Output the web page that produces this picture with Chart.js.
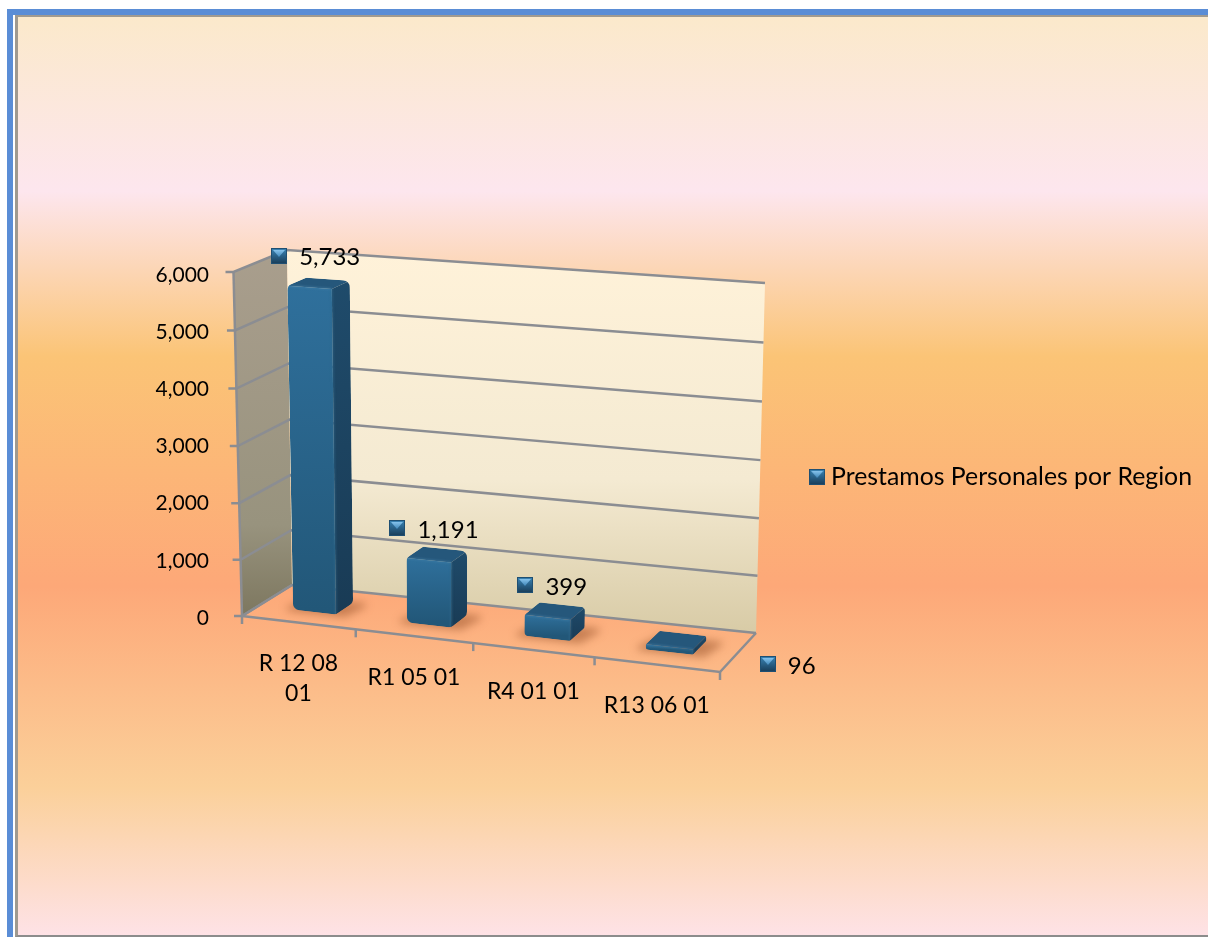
<!DOCTYPE html>
<html>
<head>
<meta charset="utf-8">
<title>Prestamos Personales por Region</title>
<script src="https://cdn.jsdelivr.net/npm/chart.js@4/dist/chart.umd.min.js"></script>
<style>
  html, body { margin: 0; padding: 0; background: #fff; overflow: hidden; }
  #frame { position: absolute; left: 7px; top: 9px; width: 1195px; height: 922px;
           border-top: 6px solid #5a8dd6; border-left: 6px solid #5a8dd6; background: #fff; }
  #panel { position: absolute; left: 2px; top: 0; right: 0; bottom: 0; box-sizing: border-box;
           border-left: 3px solid #a09a90; border-top: 2px solid #a09a90; border-bottom: 2px solid #8c8c8c;
           background: linear-gradient(180deg, #fbe9cb 0%, #fde6ee 19%, #fbc476 37%, #fda878 62%, #fbd09a 84%, #fee2e6 100%); }
  canvas { position: absolute; left: 0; top: 0; }
</style>
</head>
<body>
<div id="frame"><div id="panel"></div></div>
<canvas id="regionChart" width="1208" height="937"></canvas>
<script>
// Chart data
const regions = [['R 12 08', '01'], 'R1 05 01', 'R4 01 01', 'R13 06 01'];
const prestamos = [5733, 1191, 399, 96];
const seriesName = 'Prestamos Personales por Region';
const valueTicks = [0, 1000, 2000, 3000, 4000, 5000, 6000];

const labelFont = 'Lato, Carlito, sans-serif';
const blue = '#2a6690';

// Corners of the 3D box on screen: floor and ceiling, front then back
const floorBox = { fl: [242, 616], fr: [720, 672], bl: [292, 585], br: [756, 633] };
const roofBox = { fl: [233.5, 272], fr: [733, 307], bl: [287, 250], br: [765, 283] };
const perspectiveX = 0.937;
const perspectiveY = 0.976;

// where each value label sits relative to the top of its bar
const labelShift = [[-39, -25], [-39, -24], [-29, -24], [92, 24]];

function mix(a, b, t) {
    return [a[0] + (b[0] - a[0]) * t, a[1] + (b[1] - a[1]) * t];
}

function warp(t, k) {
    return k * t / (1 + (k - 1) * t);
}

function onPlane(box, p, d) {
    return mix(mix(box.fl, box.fr, p), mix(box.bl, box.br, p), d);
}

// u = along category axis, v = value fraction, d = depth, all 0..1
function project(u, v, d) {
    const p = warp(u, perspectiveX);
    return mix(onPlane(floorBox, p, d), onPlane(roofBox, p, d), warp(v, perspectiveY));
}

function tracePoly(ctx, pts, r) {
    ctx.beginPath();
    const n = pts.length;
    const start = mix(pts[n - 1], pts[0], 0.5);
    ctx.moveTo(start[0], start[1]);
    for (let i = 0; i < n; i++) {
        const next = pts[(i + 1) % n];
        ctx.arcTo(pts[i][0], pts[i][1], next[0], next[1], r);
    }
    ctx.closePath();
}

function fillSharp(ctx, pts, style) {
    ctx.beginPath();
    pts.forEach((p, i) => i ? ctx.lineTo(p[0], p[1]) : ctx.moveTo(p[0], p[1]));
    ctx.closePath();
    ctx.fillStyle = style;
    ctx.fill();
}

function strokeLine(ctx, pts) {
    ctx.beginPath();
    pts.forEach((p, i) => i ? ctx.lineTo(p[0], p[1]) : ctx.moveTo(p[0], p[1]));
    ctx.stroke();
}

// Legend key / label marker
function makeMarker() {
    const c = document.createElement('canvas');
    c.width = 16;
    c.height = 16;
    const g = c.getContext('2d');
    g.fillStyle = '#1f4f72';
    g.fillRect(0, 0, 16, 16);
    const body = g.createLinearGradient(0, 0, 0, 16);
    body.addColorStop(0, '#3a86b8');
    body.addColorStop(1, '#183b56');
    g.fillStyle = body;
    g.fillRect(1, 1, 14, 14);
    const glow = g.createLinearGradient(0, 1, 0, 9);
    glow.addColorStop(0, '#8fcaf2');
    glow.addColorStop(1, '#3f86b8');
    g.fillStyle = glow;
    g.beginPath();
    g.moveTo(2, 2);
    g.lineTo(14, 2);
    g.lineTo(8, 9);
    g.closePath();
    g.fill();
    return c;
}
const marker = makeMarker();

function drawWalls(chart) {
    const ctx = chart.ctx;
    const yScale = chart.scales.y;
    const H = yScale.bottom - yScale.top;

    // side wall
    const a = project(0, 1, 0), b = project(0, 1, 1), c = project(0, 0, 1), d = project(0, 0, 0);
    let grad = ctx.createLinearGradient(0, b[1], 0, d[1]);
    grad.addColorStop(0, '#a99e8d');
    grad.addColorStop(0.75, '#98937e');
    grad.addColorStop(1, '#7d775f');
    fillSharp(ctx, [a, b, c, d], grad);

    // back wall
    const e = project(1, 1, 1), f = project(1, 0, 1);
    grad = ctx.createLinearGradient(0, b[1], 0, f[1]);
    grad.addColorStop(0, '#fff2d9');
    grad.addColorStop(0.6, '#f4ead2');
    grad.addColorStop(1, '#d8cba6');
    fillSharp(ctx, [b, e, f, c], grad);

    ctx.strokeStyle = '#8b8d92';
    ctx.lineWidth = 2.5;
    ctx.lineJoin = 'miter';

    // gridlines run round both walls, with a tick out on the left
    yScale.ticks.forEach(t => {
        const v = (yScale.bottom - yScale.getPixelForValue(t.value)) / H;
        const p0 = project(0, v, 0), p1 = project(0, v, 1), p2 = project(1, v, 1);
        strokeLine(ctx, [[p0[0] - 8, p0[1]], p0, p1, p2]);
    });

    // left edge, floor outline, category ticks
    strokeLine(ctx, [a, d]);
    strokeLine(ctx, [d, c]);
    const fr = project(1, 0, 0);
    strokeLine(ctx, [d, fr, f]);

    const n = regions.length;
    for (let i = 0; i <= n; i++) {
        const p = project(i / n, 0, 0);
        strokeLine(ctx, [p, [p[0], p[1] + 8]]);
    }
}

function drawBar(ctx, u0, u1, v) {
    const d0 = 0.33, d1 = 0.69;
    // the bevel eats a little of the top of each bar
    const drop = 3 * Math.min(1, v * 10);

    // soft shadow on the floor
    ctx.save();
    ctx.filter = 'blur(4px)';
    ctx.fillStyle = 'rgba(150, 80, 40, 0.5)';
    const pad = 0.024;
    tracePoly(ctx, [project(u0 - pad, 0, d0 - 0.04), project(u1 + pad, 0, d0 - 0.04),
                    project(u1 + pad * 1.6, 0, d1 + 0.02), project(u0, 0, d1 + 0.02)], 2);
    ctx.fill();
    ctx.restore();

    const top = (u, d) => { const p = project(u, v, d); return [p[0], p[1] + drop]; };
    const fbl = project(u0, 0, d0), fbr = project(u1, 0, d0), bbr = project(u1, 0, d1);
    const ftl = top(u0, d0), ftr = top(u1, d0), btr = top(u1, d1), btl = top(u0, d1);

    // one rounded outline, the three faces are cut out of it
    ctx.save();
    tracePoly(ctx, [ftl, btl, btr, bbr, fbr, fbl], Math.min(7, 2 + v * 40));
    ctx.clip();

    fillSharp(ctx, [ftl, ftr, btr, btl], '#25577b');

    let g = ctx.createLinearGradient(0, btr[1], 0, fbr[1]);
    g.addColorStop(0, '#1f4b6b');
    g.addColorStop(1, '#193b55');
    fillSharp(ctx, [ftr, btr, bbr, fbr], g);

    g = ctx.createLinearGradient(0, ftl[1], 0, fbl[1]);
    g.addColorStop(0, '#2f709c');
    g.addColorStop(1, '#225778');
    fillSharp(ctx, [ftl, ftr, fbr, fbl], g);

    // soft ridges where the faces meet
    ctx.filter = 'blur(1px)';
    ctx.lineWidth = 2;
    ctx.strokeStyle = 'rgba(70, 130, 170, 0.55)';
    strokeLine(ctx, [ftl, ftr]);
    ctx.strokeStyle = 'rgba(50, 105, 140, 0.6)';
    strokeLine(ctx, [ftr, fbr]);
    ctx.restore();
}

// Draws the walls, the bars and the labels from the chart's own scales
const box3d = {
    id: 'box3d',
    beforeDatasetsDraw(chart) {
        const ctx = chart.ctx;
        const area = chart.chartArea;
        const xScale = chart.scales.x;
        const W = area.right - area.left;
        const H = area.bottom - area.top;
        const meta = chart.getDatasetMeta(0);

        ctx.save();
        drawWalls(chart);

        meta.data.forEach(el => {
            const u0 = (el.x - el.width / 2 - area.left) / W;
            const u1 = (el.x + el.width / 2 - area.left) / W;
            const v = (area.bottom - el.y) / H;
            drawBar(ctx, u0, u1, v);
        });

        // category labels, following the slanted front edge
        ctx.fillStyle = '#000';
        ctx.font = '23px ' + labelFont;
        ctx.textAlign = 'center';
        ctx.textBaseline = 'middle';
        regions.forEach((label, i) => {
            const p = project((xScale.getPixelForValue(i) - area.left) / W, 0, 0);
            const lines = Array.isArray(label) ? label : [label];
            lines.forEach((line, j) => ctx.fillText(line, p[0], p[1] + 41 + j * 30));
        });

        // value labels with their marker
        ctx.font = '24px ' + labelFont;
        ctx.textAlign = 'left';
        meta.data.forEach((el, i) => {
            const u = (el.x - area.left) / W;
            const v = (area.bottom - el.y) / H;
            const p = project(u, v, 0.5);
            const x = p[0] + labelShift[i][0];
            const y = p[1] + labelShift[i][1];
            ctx.drawImage(marker, Math.round(x - 8), Math.round(y - 8));
            ctx.fillText(prestamos[i].toLocaleString('en-US'), x + 20, y + 2);
        });
        ctx.restore();
        return false;
    }
};

new Chart(document.getElementById('regionChart').getContext('2d'), {
    type: 'bar',
    data: {
        labels: regions,
        datasets: [{
            label: seriesName,
            data: prestamos,
            backgroundColor: blue,
            pointStyle: marker,
            barPercentage: 0.38,
            categoryPercentage: 1
        }]
    },
    options: {
        responsive: false,
        animation: false,
        devicePixelRatio: 1,
        layout: { padding: { top: 275, bottom: 258, left: 0, right: 6 } },
        plugins: {
            title: { display: false },
            tooltip: { enabled: false },
            legend: {
                position: 'right',
                maxWidth: 400,
                labels: {
                    usePointStyle: true,
                    pointStyleWidth: 3,
                    color: '#000',
                    padding: 10,
                    font: { family: labelFont, size: 24.8 }
                }
            }
        },
        scales: {
            y: {
                min: valueTicks[0],
                max: valueTicks[valueTicks.length - 1],
                afterFit(scale) { scale.width = 233; },
                afterBuildTicks(scale) { scale.ticks = valueTicks.map(value => ({ value })); },
                grid: { display: false, drawTicks: false },
                border: { display: false },
                ticks: {
                    padding: 24,
                    color: '#000',
                    font: { family: labelFont, size: 21 },
                    callback: value => value.toLocaleString('en-US')
                }
            },
            x: {
                afterFit(scale) { scale.height = 61; },
                grid: { display: false, drawTicks: false },
                border: { display: false },
                ticks: { display: false }
            }
        }
    },
    plugins: [box3d]
});
</script>
</body>
</html>
